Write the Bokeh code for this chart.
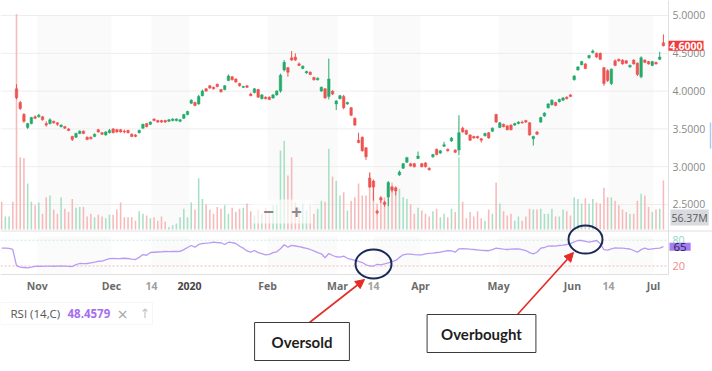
from bokeh.plotting import figure
from bokeh.models import (Range1d, Label, Arrow, NormalHead, BoxAnnotation,
                          ColumnDataSource)
from bokeh.core.properties import value
from bokeh.embed import file_html
from bokeh.resources import INLINE

# ---------------- data ----------------
opens = [4.03, 3.85, 3.69, 3.52, 3.57, 3.66, 3.66, 3.66, 3.57, 3.57,
         3.60, 3.58, 3.53, 3.53, 3.50, 3.40, 3.39, 3.44, 3.47, 3.39,
         3.39, 3.40, 3.49, 3.45, 3.42, 3.45, 3.50, 3.49, 3.49, 3.47,
         3.48, 3.43, 3.42, 3.45, 3.51, 3.57, 3.56, 3.63, 3.61, 3.61,
         3.61, 3.60, 3.61, 3.61, 3.60, 3.64, 3.69, 3.84, 3.85, 3.83,
         3.94, 4.03, 4.07, 4.05, 4.09, 4.02, 4.02, 4.14, 4.19, 4.16,
         4.10, 4.05, 4.07, 3.96, 3.98, 4.02, 3.90, 3.92, 3.92, 3.91,
         3.95, 4.00, 4.28, 4.31, 4.44, 4.45, 4.36, 4.30, 4.24, 4.25,
         4.18, 4.15, 4.00, 4.03, 3.93, 4.00, 3.83, 3.90, 3.93, 3.83,
         3.78, 3.64, 3.35, 3.39, 3.25, 2.85, 2.81, 2.41, 2.59, 2.53,
         2.60, 2.73, 2.72, 2.89, 2.98, 3.06, 3.04, 3.04, 3.11, 3.04,
         3.05, 2.98, 3.13, 3.23, 3.18, 3.27, 3.23, 3.34, 3.22, 3.22,
         3.51, 3.48, 3.42, 3.40, 3.40, 3.37, 3.41, 3.45, 3.47, 3.69,
         3.52, 3.56, 3.54, 3.55, 3.55, 3.57, 3.59, 3.61, 3.58, 3.37,
         3.46, 3.59, 3.67, 3.78, 3.82, 3.85, 3.86, 3.88, 3.92, 3.95,
         4.15, 4.28, 4.35, 4.36, 4.44, 4.51, 4.50, 4.50, 4.31, 4.27,
         4.10, 4.40, 4.42, 4.41, 4.40, 4.32, 4.41, 4.37, 4.19, 4.41,
         4.39, 4.34, 4.38, 4.42, 4.64]
highs = [4.09, 3.87, 3.71, 3.58, 3.66, 3.68, 3.70, 3.67, 3.60, 3.64,
         3.61, 3.59, 3.56, 3.54, 3.51, 3.41, 3.45, 3.48, 3.48, 3.40,
         3.40, 3.44, 3.50, 3.46, 3.47, 3.50, 3.51, 3.50, 3.50, 3.49,
         3.49, 3.44, 3.43, 3.49, 3.57, 3.58, 3.60, 3.64, 3.62, 3.62,
         3.62, 3.63, 3.64, 3.64, 3.63, 3.70, 3.74, 3.89, 3.86, 3.95,
         4.02, 4.04, 4.08, 4.06, 4.10, 4.03, 4.08, 4.22, 4.20, 4.17,
         4.11, 4.07, 4.08, 3.98, 4.04, 4.03, 3.96, 3.93, 3.93, 3.96,
         4.01, 4.23, 4.41, 4.32, 4.53, 4.50, 4.38, 4.34, 4.27, 4.26,
         4.19, 4.18, 4.06, 4.04, 4.43, 4.01, 3.88, 3.95, 3.95, 3.86,
         3.79, 3.65, 3.45, 3.40, 3.26, 2.92, 2.83, 2.43, 2.61, 2.55,
         2.81, 2.75, 2.74, 2.95, 3.05, 3.13, 3.05, 3.05, 3.20, 3.05,
         3.06, 2.99, 3.17, 3.24, 3.22, 3.33, 3.24, 3.39, 3.23, 3.68,
         3.53, 3.49, 3.43, 3.41, 3.41, 3.38, 3.45, 3.46, 3.52, 3.70,
         3.59, 3.57, 3.55, 3.56, 3.58, 3.60, 3.61, 3.62, 3.59, 3.41,
         3.47, 3.66, 3.72, 3.84, 3.89, 3.86, 3.90, 3.92, 3.93, 3.96,
         4.21, 4.33, 4.40, 4.37, 4.48, 4.55, 4.51, 4.51, 4.32, 4.29,
         4.30, 4.42, 4.43, 4.42, 4.41, 4.35, 4.42, 4.38, 4.46, 4.42,
         4.40, 4.40, 4.39, 4.52, 4.75]
lows = [3.89, 3.75, 3.58, 3.50, 3.56, 3.63, 3.65, 3.61, 3.53, 3.56,
        3.57, 3.54, 3.52, 3.50, 3.47, 3.34, 3.38, 3.43, 3.43, 3.35,
        3.36, 3.39, 3.45, 3.42, 3.41, 3.44, 3.44, 3.45, 3.45, 3.44,
        3.44, 3.39, 3.39, 3.44, 3.50, 3.52, 3.55, 3.60, 3.58, 3.58,
        3.58, 3.59, 3.60, 3.60, 3.59, 3.63, 3.68, 3.83, 3.80, 3.82,
        3.93, 3.99, 4.03, 4.02, 4.05, 3.98, 4.01, 4.13, 4.14, 4.11,
        4.06, 4.04, 4.04, 3.93, 3.97, 3.91, 3.89, 3.89, 3.88, 3.90,
        3.94, 3.98, 4.26, 4.19, 4.40, 4.40, 4.33, 4.29, 4.23, 4.21,
        4.14, 4.14, 3.99, 3.90, 3.89, 3.95, 3.75, 3.89, 3.76, 3.82,
        3.67, 3.54, 3.31, 3.20, 3.09, 2.72, 2.55, 2.37, 2.52, 2.47,
        2.48, 2.66, 2.62, 2.88, 2.97, 3.05, 3.00, 2.99, 3.10, 2.99,
        2.99, 2.95, 3.12, 3.15, 3.17, 3.26, 3.20, 3.33, 3.18, 3.15,
        3.45, 3.42, 3.34, 3.37, 3.37, 3.32, 3.40, 3.37, 3.46, 3.58,
        3.51, 3.52, 3.48, 3.48, 3.54, 3.56, 3.57, 3.58, 3.41, 3.28,
        3.42, 3.58, 3.66, 3.77, 3.81, 3.80, 3.85, 3.87, 3.89, 3.92,
        4.14, 4.27, 4.34, 4.29, 4.43, 4.50, 4.44, 4.41, 4.07, 4.12,
        4.08, 4.33, 4.39, 4.35, 4.36, 4.31, 4.35, 4.20, 4.17, 4.37,
        4.35, 4.33, 4.35, 4.41, 4.59]
closes = [3.91, 3.77, 3.60, 3.57, 3.65, 3.64, 3.68, 3.62, 3.55, 3.62,
          3.58, 3.56, 3.55, 3.51, 3.48, 3.36, 3.44, 3.47, 3.44, 3.36,
          3.37, 3.43, 3.46, 3.43, 3.46, 3.48, 3.45, 3.46, 3.46, 3.46,
          3.45, 3.40, 3.40, 3.48, 3.56, 3.53, 3.59, 3.61, 3.59, 3.59,
          3.59, 3.62, 3.63, 3.63, 3.62, 3.69, 3.73, 3.88, 3.81, 3.93,
          4.00, 4.00, 4.04, 4.03, 4.06, 3.99, 4.07, 4.20, 4.15, 4.12,
          4.07, 4.06, 4.05, 3.94, 4.03, 3.92, 3.95, 3.90, 3.89, 3.95,
          4.00, 4.21, 4.38, 4.25, 4.41, 4.41, 4.34, 4.33, 4.26, 4.22,
          4.15, 4.17, 4.05, 3.91, 4.16, 3.96, 3.87, 3.94, 3.78, 3.85,
          3.68, 3.55, 3.32, 3.21, 3.13, 2.73, 2.73, 2.39, 2.56, 2.50,
          2.79, 2.69, 2.68, 2.93, 3.04, 3.12, 3.01, 3.00, 3.14, 3.00,
          3.00, 2.96, 3.16, 3.16, 3.21, 3.29, 3.21, 3.38, 3.19, 3.45,
          3.46, 3.43, 3.35, 3.38, 3.38, 3.35, 3.44, 3.38, 3.51, 3.59,
          3.58, 3.53, 3.49, 3.49, 3.57, 3.59, 3.58, 3.59, 3.42, 3.40,
          3.43, 3.65, 3.71, 3.83, 3.88, 3.81, 3.89, 3.91, 3.90, 3.93,
          4.20, 4.32, 4.39, 4.30, 4.47, 4.53, 4.45, 4.42, 4.10, 4.14,
          4.29, 4.34, 4.40, 4.36, 4.37, 4.34, 4.36, 4.22, 4.44, 4.38,
          4.36, 4.39, 4.36, 4.45, 4.60]
volumes = [248, 83, 82, 53, 32, 28, 31, 18, 37, 39,
           23, 18, 37, 24, 20, 35, 25, 26, 26, 15,
           18, 14, 17, 15, 13, 17, 17, 23, 31, 14,
           14, 14, 10, 21, 18, 16, 13, 14, 10, 15,
           9, 3, 5, 7, 14, 24, 14, 31, 23, 59,
           35, 29, 23, 18, 26, 24, 28, 18, 25, 20,
           24, 25, 30, 21, 16, 23, 18, 25, 22, 28,
           29, 91, 102, 62, 83, 31, 25, 30, 22, 30,
           18, 24, 33, 32, 93, 61, 56, 39, 43, 22,
           33, 37, 53, 39, 39, 66, 56, 30, 36, 37,
           41, 54, 48, 47, 37, 35, 29, 18, 25, 22,
           18, 15, 21, 24, 14, 18, 14, 24, 20, 83,
           32, 13, 20, 15, 21, 13, 10, 23, 18, 54,
           30, 21, 16, 18, 10, 15, 10, 15, 24, 23,
           23, 24, 18, 18, 24, 15, 15, 23, 21, 16,
           37, 35, 30, 36, 30, 35, 31, 30, 48, 37,
           37, 33, 28, 23, 20, 18, 18, 33, 41, 39,
           26, 20, 23, 24, 56.37]
pre_volumes = [32, 15, 15, 32]          # bars before the first visible candle
pre_up = [False, True, True, False]
rsi_pre = [61.4, 61.4, 61.0, 58.4]
rsi = [21.0, 17.2, 16.5, 15.8, 17.5, 19.3, 19.5, 19.0, 19.6, 19.8,
       19.4, 19.6, 20.0, 19.8, 19.3, 18.8, 23.0, 25.8, 25.5, 25.8,
       27.5, 29.0, 31.0, 31.5, 34.0, 37.0, 37.4, 37.0, 37.4, 38.0,
       37.4, 36.0, 35.1, 40.0, 46.5, 45.0, 51.4, 52.0, 52.5, 53.0,
       53.7, 53.5, 54.0, 53.7, 53.9, 58.0, 63.0, 67.7, 63.7, 70.0,
       72.3, 73.0, 74.0, 75.3, 74.5, 74.0, 70.0, 75.3, 74.5, 72.3,
       66.0, 61.4, 55.0, 52.1, 56.0, 51.0, 49.0, 46.0, 47.0, 51.0,
       53.0, 60.0, 69.3, 63.7, 68.0, 66.5, 65.0, 63.0, 61.0, 58.4,
       55.0, 51.0, 48.4, 39.1, 49.0, 44.4, 41.5, 40.5, 42.8, 38.0,
       35.5, 33.0, 30.5, 28.0, 22.8, 20.0, 19.5, 24.0, 22.8, 25.0,
       27.4, 30.0, 32.8, 40.0, 46.0, 47.4, 47.5, 46.5, 46.0, 46.0,
       48.0, 49.5, 50.0, 51.4, 52.0, 54.0, 56.0, 55.0, 52.1, 60.0,
       60.5, 60.0, 59.0, 58.4, 57.5, 56.5, 56.0, 55.5, 58.0, 61.4,
       60.5, 59.0, 58.4, 59.0, 59.5, 60.0, 58.0, 56.0, 51.0, 48.4,
       52.0, 61.4, 63.0, 66.0, 66.5, 66.0, 67.7, 68.5, 70.0, 72.0,
       76.0, 79.3, 79.3, 77.5, 75.3, 77.5, 79.3, 72.3, 58.0, 57.0,
       60.0, 62.0, 61.4, 61.4, 60.5, 59.5, 56.0, 52.1, 58.0, 61.4,
       58.4, 60.0, 61.0, 61.4, 65.0]
tick_positions = [5.57, 25.55, 36.31, 46.53, 67.51, 86.34, 96.02, 108.66,
                  129.64, 149.54, 159.22, 171.33]
tick_labels = ["Nov", "Dec", "14", "2020", "Feb", "Mar", "14", "Apr",
               "May", "Jun", "14", "Jul"]
price_ticks = [2.5, 3.0, 3.5, 4.0, 4.5, 5.0]
rsi_levels = [20, 80]
last_price = closes[-1]
last_volume = volumes[-1]
last_rsi = rsi[-1]
rsi_legend_value = "48.4579"
callouts = ["Oversold", "Overbought"]

# ---------------- colours ----------------
GREEN = "#22ab6b"
RED = "#ef5350"
VOL_UP = "#a8e0c6"
VOL_DN = "#f7b9b9"
RSI_COL = "#b99cf2"
NAVY = "#1b2a57"
ARROW_RED = "#e52b25"
FONT = "Open Sans"

n = len(closes)
idx = list(range(n))
up = [c >= o for o, c in zip(opens, closes)]
src = ColumnDataSource(dict(
    x=idx, h=highs, l=lows,
    top=[max(o, c) for o, c in zip(opens, closes)],
    bot=[min(o, c) for o, c in zip(opens, closes)],
    col=[GREEN if u else RED for u in up],
))
vol_x = list(range(-len(pre_volumes), n))
vol_src = ColumnDataSource(dict(
    x=vol_x, v=pre_volumes + volumes,
    col=[VOL_UP if u else VOL_DN for u in pre_up + up],
))

# The frame fills the whole 712 x 371 canvas; "px" ranges give screen pixels.
p = figure(width=712, height=371, output_backend="svg", toolbar_location=None,
           title=None, x_range=Range1d(-4.303, 187.20), y_range=Range1d(371, 0),
           x_axis_location=None, y_axis_location=None, min_border=0,
           outline_line_color=None, background_fill_color="white",
           border_fill_color="white")
p.grid.visible = False
p.extra_x_ranges = {"px": Range1d(0, 712)}
p.extra_y_ranges = {"price": Range1d(0.2910, 5.1984),
                    "vol": Range1d(-163.4, 263.5),
                    "rsi": Range1d(-225.35, 637.4)}

# alternating date bands (price and RSI panes)
p.quad(left=tick_positions[0::2], right=tick_positions[1::2], top=15, bottom=229,
       fill_color="#fafafa", line_color=None)
p.quad(left=tick_positions[0::2], right=tick_positions[1::2], top=236, bottom=273,
       fill_color="#fbfbfb", line_color=None)
# horizontal price grid
p.segment(x0=0, x1=668, y0=price_ticks, y1=price_ticks, x_range_name="px",
          y_range_name="price", line_color="#ededed", line_width=1)

# panel borders
p.segment(x0=[0, 0, 668], x1=[712, 668, 668], y0=[230.5, 274, 0],
          y1=[230.5, 274, 274], x_range_name="px", line_color="#e0e0e0",
          line_width=1)
p.segment(x0=[710], x1=[710], y0=[122], y1=[148], x_range_name="px",
          line_color="#a9cdf0", line_width=1.5)

# volume
p.vbar(x="x", top="v", bottom=0, width=0.42, fill_color="col", line_color=None,
       y_range_name="vol", source=vol_src)

# candles
p.segment(x0="x", y0="l", x1="x", y1="h", line_color="col", line_width=1,
          y_range_name="price", source=src)
p.vbar(x="x", top="top", bottom="bot", width=0.68, fill_color="col",
       line_color="col", line_width=0.5, y_range_name="price", source=src)

# RSI
for lvl, c in zip(rsi_levels, ["#f4b8b8", "#c9ebe2"]):
    p.segment(x0=[0], x1=[668], y0=[lvl], y1=[lvl], x_range_name="px",
              y_range_name="rsi", line_color=c, line_width=1, line_dash="2 2")
p.line(x=list(range(-len(rsi_pre), n)), y=rsi_pre + rsi, y_range_name="rsi",
       line_color=RSI_COL, line_width=1.3)

# date labels
tick_colors = ["#444444" if len(t) == 4 else ("#a0a0a0" if t.isdigit() else "#6b6b6b")
               for t in tick_labels]
p.text(x=tick_positions, y=[285.7] * len(tick_positions), text=tick_labels,
       text_color=tick_colors, text_align="center", text_baseline="middle",
       text_font=value(FONT), text_font_size=value("10.5px"),
       text_font_style="bold")
# price scale labels
p.text(x=[672] * len(price_ticks), y=price_ticks,
       text=[f"{t:.4f}" for t in price_ticks], x_range_name="px",
       y_range_name="price", text_color="#8a8a8a", text_align="left",
       text_baseline="middle", text_font=value(FONT),
       text_font_size=value("10.5px"))

# zoom controls overlay
p.quad(left=[252], right=[312], top=[199], bottom=[223], x_range_name="px",
       fill_color="white", fill_alpha=0.65, line_color=None)
for sym, xs in [("\u2212", 268), ("+", 296)]:
    p.add_layout(Label(x=xs, y=211, x_range_name="px", text=sym,
                       text_align="center", text_baseline="middle",
                       text_font_size="18px", text_font_style="bold",
                       text_color="#8a8a8a"))

# badges on the right scale
p.add_layout(Label(x=668, y=last_price, x_range_name="px", y_range_name="price",
                   text=f"{last_price:.4f}", text_align="left",
                   text_baseline="middle", text_font=FONT,
                   text_font_size="10.5px", text_font_style="bold",
                   text_color="white", background_fill_color="#f23a3a",
                   padding=1))
p.add_layout(Label(x=670, y=217, x_range_name="px",
                   text=f"{last_volume:.2f}M", text_align="left",
                   text_baseline="middle", text_font=FONT,
                   text_font_size="10.5px", text_color="#5a5a5a",
                   background_fill_color="#d7dade", padding=1))
p.add_layout(Label(x=672, y=rsi_levels[1], x_range_name="px", y_range_name="rsi",
                   text=str(rsi_levels[1]), text_align="left",
                   text_baseline="middle", text_font=FONT,
                   text_font_size="10.5px", text_color="#8fd8c6"))
p.add_layout(Label(x=672, y=rsi_levels[0], x_range_name="px", y_range_name="rsi",
                   text=str(rsi_levels[0]), text_align="left",
                   text_baseline="middle", text_font=FONT,
                   text_font_size="11px", text_color="#f08a8a"))
p.add_layout(Label(x=669, y=last_rsi, x_range_name="px", y_range_name="rsi",
                   text=f"{last_rsi:.0f}", text_align="left",
                   text_baseline="middle", text_font=FONT,
                   text_font_size="11.5px", text_color="#222244",
                   background_fill_color="#a57cf3", padding=(4, 0)))

# RSI legend box
p.add_layout(BoxAnnotation(left=0, right=152, top=302, bottom=324,
                           x_range_name="px", fill_color="white", fill_alpha=1,
                           line_color="#dfe2e8", line_width=1))
p.add_layout(Label(x=10, y=313, x_range_name="px", text="RSI (14,C)",
                   text_baseline="middle", text_font=FONT,
                   text_font_size="11.5px", text_color="#555555"))
p.add_layout(Label(x=67, y=313, x_range_name="px", text=rsi_legend_value,
                   text_baseline="middle", text_font=FONT,
                   text_font_size="11.5px", text_font_style="bold",
                   text_color="#a66ef0"))
p.add_layout(Label(x=117, y=313, x_range_name="px", text="\u00d7",
                   text_baseline="middle", text_font=FONT,
                   text_font_size="18px", text_color="#a8a8a8"))
p.add_layout(Label(x=139, y=313, x_range_name="px", text="\u2191",
                   text_baseline="middle", text_font="DejaVu Sans",
                   text_font_size="13px", text_color="#c4c4c4"))

# highlight ellipses
p.ellipse(x=[373, 585], y=[263.5, 239], width=[36, 34], height=[29, 28],
          x_range_name="px", fill_color=None, line_color=NAVY, line_width=2)

# arrows
for xs, ys, xe, ye in [(309, 322, 364, 279), (517, 314, 573, 252)]:
    p.add_layout(Arrow(x_start=xs, y_start=ys, x_end=xe, y_end=ye,
                       x_range_name="px", line_color=ARROW_RED, line_width=1.6,
                       end=NormalHead(size=9, fill_color=ARROW_RED,
                                      line_color=ARROW_RED)))

# callout boxes
for txt, cx, cy, padx in zip(callouts, [301.5, 481], [341, 333], [17, 14]):
    p.add_layout(Label(x=cx, y=cy, x_range_name="px", text=txt,
                       text_align="center", text_baseline="middle",
                       text_font="Lato", text_font_style="bold",
                       text_font_size="15px", text_color="#1e1e1e",
                       border_line_color="#3a3a3a", border_line_width=1,
                       background_fill_color="white", padding=(padx, 10)))

open("out.html", "w").write(file_html(p, INLINE))
